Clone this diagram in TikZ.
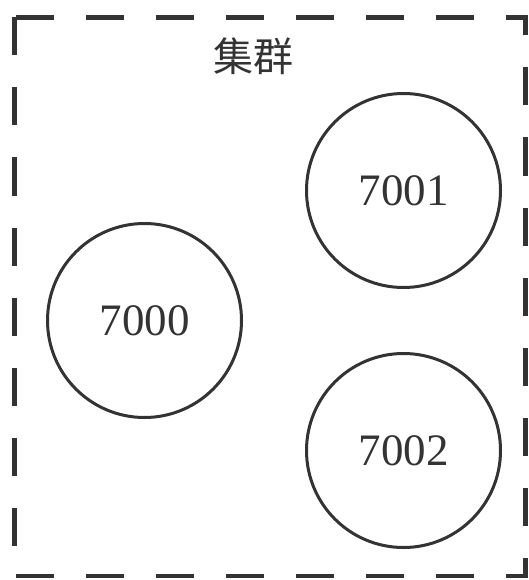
\documentclass[tikz,border=0pt]{standalone}
\usepackage{fontspec}
\setmainfont{Liberation Serif}
\newfontfamily\cjk{Noto Sans CJK SC}
\definecolor{ink}{HTML}{333333}
\begin{document}
\begin{tikzpicture}[x=1pt,y=-1pt,
  server/.style={circle,draw=ink,line width=3pt,minimum size=194pt,inner sep=0pt,
    text=ink,font=\fontsize{45}{50}\selectfont},
  frame/.style={draw=ink,line width=4.5pt,dash pattern=on 38pt off 32pt},
  title/.style={text=ink,font=\cjk\fontsize{40}{46}\selectfont}]
\useasboundingbox (0,0) rectangle (528,580);
\draw[frame] (14.5,17.5) rectangle (525.5,576);
\node[title] (t) at (253,56) {集群};
\node[server] (s0) at (144.5,320.5) {7000};
\node[server] (s1) at (403.5,190.5) {7001};
\node[server] (s2) at (403.5,450.5) {7002};
\end{tikzpicture}
\end{document}
